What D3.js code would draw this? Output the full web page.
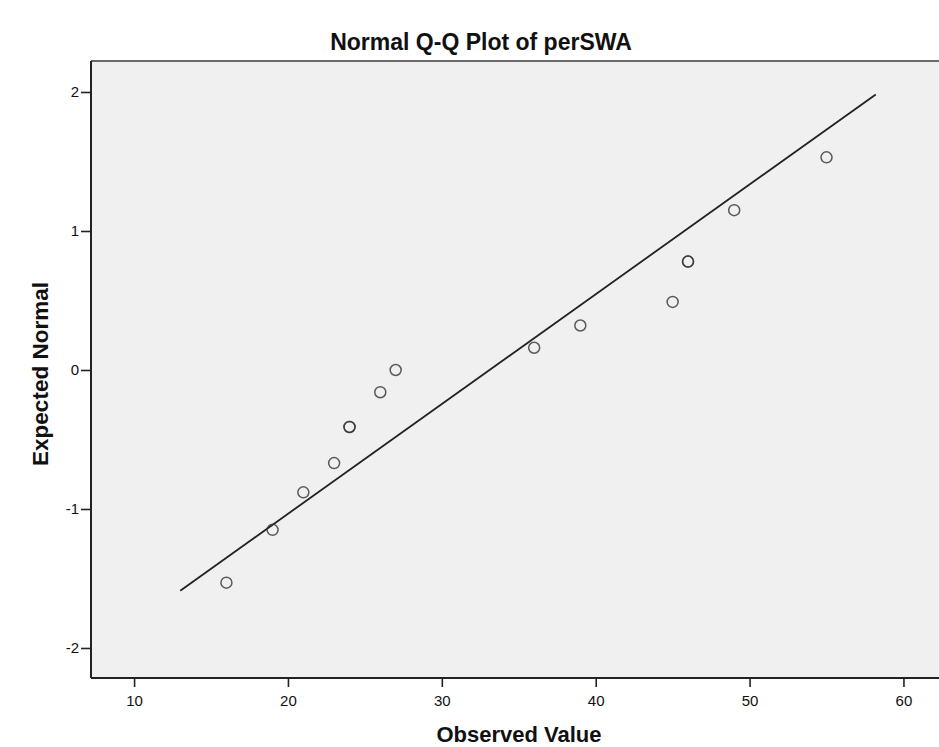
<!DOCTYPE html>
<html>
<head>
<meta charset="utf-8">
<script src="https://cdn.jsdelivr.net/npm/d3@7"></script>
<style>
  body { margin: 0; background: #fff; }
  svg { display: block; }
</style>
</head>
<body>
<script>
const observed = [16, 19, 21, 23, 24, 24, 26, 27, 36, 39, 45, 46, 46, 49, 55];
const expected = [-1.53, -1.15, -0.88, -0.67, -0.41, -0.41, -0.16, 0, 0.16, 0.32, 0.49, 0.78, 0.78, 1.15, 1.53];

// reference line: (x - mean) / sd, drawn between these x values
const lineMean = 33.1;
const lineSd = 12.66;
const lineEnds = [13, 58.2];

const xTicks = [10, 20, 30, 40, 50, 60];
const yTicks = [-2, -1, 0, 1, 2];

const width = 939, height = 747;
const plotLeft = 91, plotTop = 61, plotRight = 945, plotBottom = 678;

const x = d3.scaleLinear().domain([7.2, 62.7]).range([plotLeft, plotRight]);
const y = d3.scaleLinear().domain([-2.216, 2.223]).range([plotBottom, plotTop]);

const font = '"Liberation Sans", Arial, sans-serif';

const svg = d3.select('body').append('svg')
  .attr('width', width)
  .attr('height', height)
  .style('font-family', font);

// plot background
svg.append('rect')
  .attr('x', plotLeft).attr('y', plotTop)
  .attr('width', plotRight - plotLeft).attr('height', plotBottom - plotTop)
  .attr('fill', '#f0f0f0');

// top frame line
svg.append('line')
  .attr('x1', plotLeft).attr('x2', plotRight)
  .attr('y1', plotTop).attr('y2', plotTop)
  .attr('stroke', '#6a6a6a').attr('stroke-width', 2);

// axes
const xAxis = svg.append('g')
  .attr('transform', `translate(0,${plotBottom})`)
  .call(d3.axisBottom(x).tickValues(xTicks).tickSize(9).tickPadding(8).tickFormat(d => String(d)));

const yAxis = svg.append('g')
  .attr('transform', `translate(${plotLeft},0)`)
  .call(d3.axisLeft(y).tickValues(yTicks).tickSize(10).tickPadding(2).tickFormat(d => String(d)));

[xAxis, yAxis].forEach(a => {
  a.select('.domain').attr('stroke', '#222').attr('stroke-width', 2);
  a.selectAll('.tick line').attr('stroke', '#222').attr('stroke-width', 1.6);
  a.selectAll('.tick text')
    .attr('fill', '#111')
    .style('font-size', '15px')
    .style('font-family', font);
});
xAxis.select('.domain').attr('d', `M${plotLeft},0H${plotRight}`);
yAxis.select('.domain').attr('d', `M0,${plotTop}V${plotBottom}`);

// reference line
svg.append('line')
  .attr('x1', x(lineEnds[0])).attr('y1', y((lineEnds[0] - lineMean) / lineSd))
  .attr('x2', x(lineEnds[1])).attr('y2', y((lineEnds[1] - lineMean) / lineSd))
  .attr('stroke', '#222').attr('stroke-width', 1.8);

// points
svg.append('g')
  .selectAll('circle')
  .data(observed.map((d, i) => [d, expected[i]]))
  .join('circle')
    .attr('cx', d => x(d[0]))
    .attr('cy', d => y(d[1]))
    .attr('r', 5.5)
    .attr('fill', 'none')
    .attr('stroke', '#333')
    .attr('stroke-opacity', 0.8)
    .attr('stroke-width', 1.5);

// title and axis labels
svg.append('text')
  .attr('x', 481).attr('y', 50)
  .attr('text-anchor', 'middle')
  .style('font-size', '23px')
  .style('font-weight', 'bold')
  .attr('fill', '#111')
  .text('Normal Q-Q Plot of perSWA');

svg.append('text')
  .attr('x', 519).attr('y', 742)
  .attr('text-anchor', 'middle')
  .style('font-size', '22px')
  .style('font-weight', 'bold')
  .attr('fill', '#111')
  .text('Observed Value');

svg.append('text')
  .attr('transform', `translate(48,${374}) rotate(-90)`)
  .attr('text-anchor', 'middle')
  .style('font-size', '22.5px')
  .style('font-weight', 'bold')
  .attr('fill', '#111')
  .text('Expected Normal');
</script>
</body>
</html>
